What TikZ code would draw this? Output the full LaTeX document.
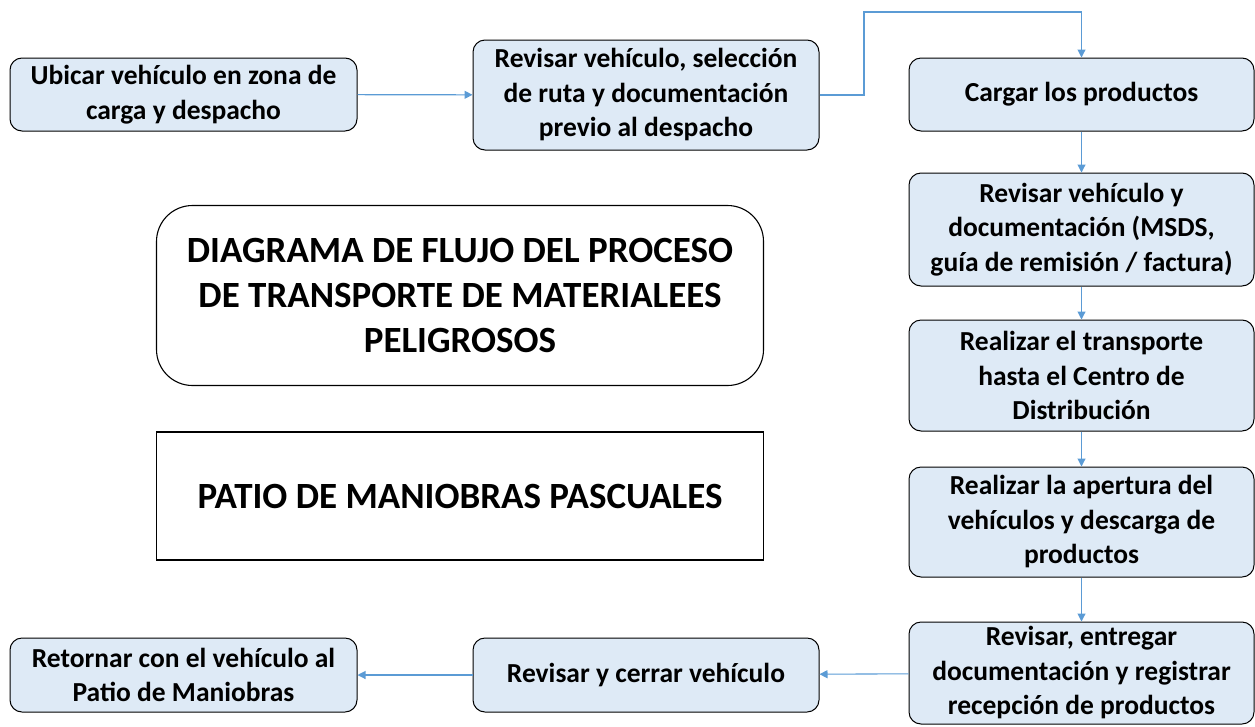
\documentclass[tikz,border=0pt]{standalone}
\usepackage{fontspec}
\setmainfont{Carlito}
\usetikzlibrary{arrows.meta}
\definecolor{boxfill}{HTML}{DEEAF6}
\definecolor{arrowc}{HTML}{5B9BD5}
\begin{document}
\begin{tikzpicture}[x=1pt,y=-1pt,
  stepbox/.style={draw=black, line width=1pt, fill=boxfill, rounded corners=12pt,
    align=center, font=\fontsize{27.5}{34.5}\selectfont\bfseries, inner sep=1pt},
  flow/.style={draw=arrowc, line width=1.1pt, -{Triangle[length=8pt,width=8pt]}},
  titlebox/.style={draw=black, line width=1.1pt, align=center,
    font=\fontsize{37}{45}\selectfont\bfseries, inner sep=2pt}]
\useasboundingbox (0,0) rectangle (1255,726);
\node[stepbox, minimum width=347pt, minimum height=73pt] (b1) at (183.5,94.5)
  {Ubicar vehículo en zona de\\carga y despacho};
\node[stepbox, minimum width=346pt, minimum height=110pt] (b2) at (646,95)
  {Revisar vehículo, selección\\de ruta y documentación\\previo al despacho};
\node[stepbox, minimum width=345pt, minimum height=73pt] (b3) at (1081.5,94.5)
  {Cargar los productos};
\node[stepbox, minimum width=345pt, minimum height=113pt] (b4) at (1081.5,229.5)
  {Revisar vehículo y\\documentación (MSDS,\\guía de remisión / factura)};
\node[stepbox, minimum width=345pt, minimum height=111pt] (b5) at (1081.5,375.5)
  {Realizar el transporte\\hasta el Centro de\\Distribución};
\node[stepbox, minimum width=345pt, minimum height=110pt] (b6) at (1081.5,522)
  {Realizar la apertura del\\vehículos y descarga de\\productos};
\node[stepbox, minimum width=345pt, minimum height=102pt] (b7) at (1081.5,673)
  {Revisar, entregar\\documentación y registrar\\recepción de productos};
\node[stepbox, minimum width=346pt, minimum height=74pt] (b8) at (646,675)
  {Revisar y cerrar vehículo};
\node[stepbox, minimum width=347pt, minimum height=74pt] (b9) at (183.5,675)
  {Retornar con el vehículo al\\Patio de Maniobras};
\node[titlebox, rounded corners=36pt, minimum width=607pt, minimum height=180pt] (t1) at (460,295.5)
  {DIAGRAMA DE FLUJO DEL PROCESO\\DE TRANSPORTE DE MATERIALEES\\PELIGROSOS};
\node[titlebox, minimum width=607pt, minimum height=128pt] (t2) at (460,496)
  {PATIO DE MANIOBRAS PASCUALES};
\coordinate (c1) at (864,95);
\coordinate (c2) at (864,12);
\draw[flow] (b1) -- (b2);
\draw[flow] (b2.east) -- (c1) -- (c2) -| (b3.north);
\draw[flow] (b3) -- (b4);
\draw[flow] (b4) -- (b5);
\draw[flow] (b5) -- (b6);
\draw[flow] (b6) -- (b7);
\draw[flow] (b7) -- (b8);
\draw[flow] (b8) -- (b9);
\end{tikzpicture}
\end{document}
